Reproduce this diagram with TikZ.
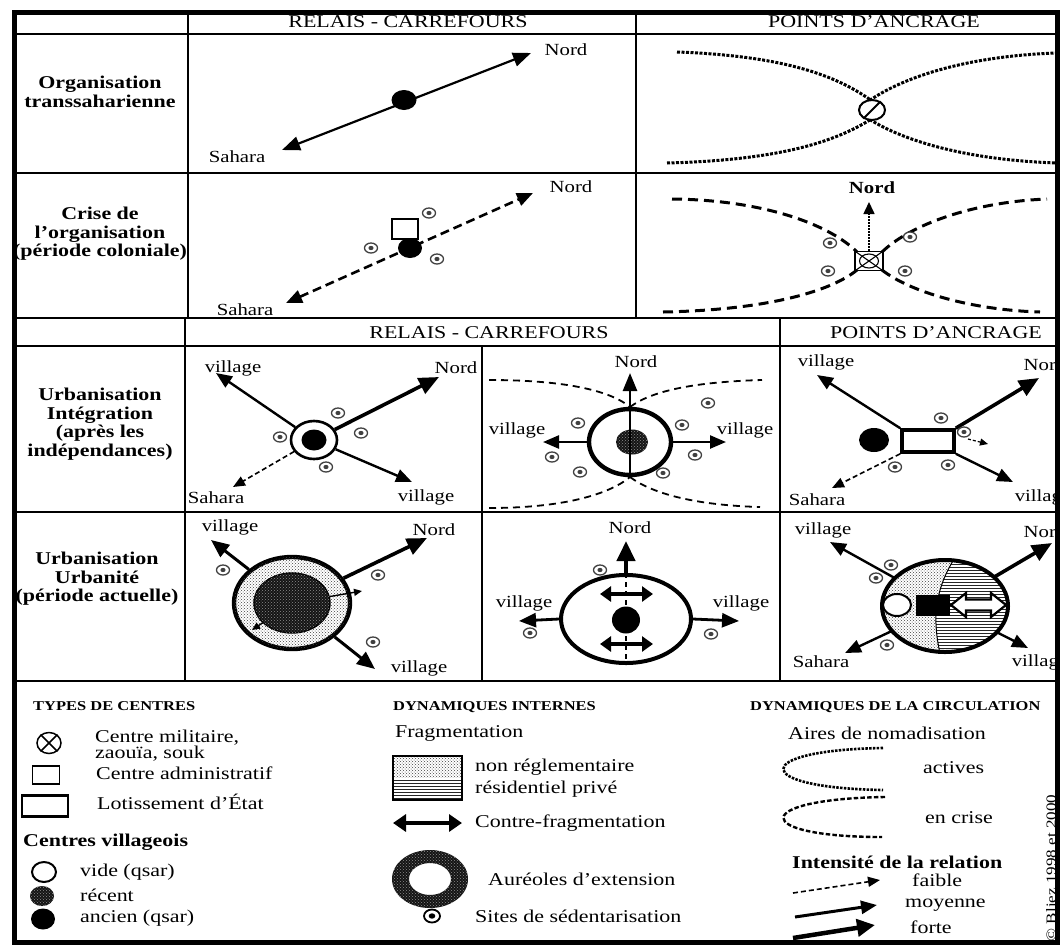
\documentclass[tikz,border=0pt]{standalone}
\usepackage{fontspec}
\setmainfont{Liberation Serif}[FakeStretch=1.22]
\usetikzlibrary{arrows.meta,shapes.geometric,patterns}

\begin{document}
\begin{tikzpicture}[x=1pt,y=-1pt,
  gridline/.style={line width=2.4pt},
  hdr/.style={font=\fontsize{18}{20}\selectfont, inner sep=0pt},
  rowlab/.style={font=\bfseries\fontsize{18}{18.5}\selectfont, align=center, inner sep=0pt},
  lab/.style={font=\fontsize{17}{19}\selectfont, inner sep=0pt},
  legtitle/.style={font=\bfseries\fontsize{13.5}{15}\selectfont, anchor=west, inner sep=0pt},
  legtxt/.style={font=\fontsize{18}{16}\selectfont, anchor=west, inner sep=0pt, align=left},
  legbold/.style={font=\bfseries\fontsize{18}{20}\selectfont, anchor=west, inner sep=0pt},
  weakarr/.style={line width=1.6pt, dash pattern=on 5pt off 3pt, -{Triangle[length=12pt,width=10pt]}},
  medarr/.style={line width=2.4pt, -{Triangle[length=16pt,width=13pt]}},
  strongarr/.style={line width=3.6pt, -{Triangle[length=20pt,width=17pt]}},
  dblarr/.style={line width=4pt, {Triangle[length=11pt,width=15pt]}-{Triangle[length=11pt,width=15pt]}},
  dotcurve/.style={line width=3pt, dash pattern=on 3pt off 1.5pt},
  dashcurve/.style={line width=3pt, dash pattern=on 10pt off 6pt},
  thindash/.style={line width=1.8pt, dash pattern=on 7pt off 5pt},
  blob/.style={ellipse, fill=black, inner sep=0pt},
  hollow/.style={ellipse, draw, fill=white, inner sep=0pt},
  recent/.style={fill=black!92, postaction={pattern=crosshatch dots, pattern color=black!45}},
  stipple/.style={fill=white, postaction={pattern=crosshatch dots, pattern color=black!75}},
  site/.pic={\draw[line width=1.3pt, black!75, fill=white] (0,0) ellipse (6.5 and 5);
             \fill[black!75] (0,0) ellipse (2.6 and 2.1);}
]
\useasboundingbox (0,0) rectangle (1060,946);
\fill[white] (0,0) rectangle (1060,946);

\begin{scope}
\clip (0,0) rectangle (1055,946);

% ---------- table rules ----------
\draw[gridline] (14,34) -- (1057,34);
\draw[gridline] (14,173) -- (1057,173);
\draw[gridline] (14,318) -- (1057,318);
\draw[gridline] (14,346) -- (1057,346);
\draw[gridline] (14,512) -- (1057,512);
\draw[gridline] (14,681) -- (1057,681);
\draw[gridline] (188,12) -- (188,318);
\draw[gridline] (636,12) -- (636,318);
\draw[gridline] (185,318) -- (185,681);
\draw[gridline] (482,346) -- (482,681);
\draw[gridline] (780,318) -- (780,681);

% ---------- headers ----------
\node[hdr] (h1a) at (408,22) {RELAIS - CARREFOURS};
\node[hdr] (h1b) at (874,22) {POINTS D'ANCRAGE};
\node[hdr] (h2a) at (489,333) {RELAIS - CARREFOURS};
\node[hdr] (h2b) at (936,333) {POINTS D'ANCRAGE};

% ---------- row labels ----------
\node[rowlab] (l1) at (100,92) {Organisation\\transsaharienne};
\node[rowlab] (l2) at (100,234) {Crise de\\l'organisation\\(période coloniale)};
\node[rowlab] (l3) at (100,424) {Urbanisation\\Intégration\\(après les\\indépendances)};
\node[rowlab] (l4) at (97,579) {Urbanisation\\Urbanité\\(période actuelle)};

% ---------- row 1, relais ----------
\node[lab] (r1nord) at (566,50) {Nord};
\node[lab] (r1sah) at (237,157) {Sahara};
\coordinate (r1n) at (531,53);
\coordinate (r1s) at (282,150);
\draw[line width=2.2pt, {Triangle[length=18pt,width=14pt]}-{Triangle[length=18pt,width=14pt]}] (r1s) -- (r1n);
\node[blob, minimum width=25pt, minimum height=20pt] (r1dot) at (404,100) {};

% ---------- row 1, ancrage ----------
\draw[dotcurve] (677,52) .. controls (790,56) and (842,78) .. (876,104);
\draw[dotcurve] (866,103) .. controls (900,78) and (965,56) .. (1057,53);
\draw[dotcurve] (667,163) .. controls (785,160) and (840,140) .. (876,116);
\draw[dotcurve] (866,117) .. controls (900,140) and (965,160) .. (1057,163);
\node[hollow, line width=2pt, minimum width=26pt, minimum height=20pt] (r1anc) at (872,110) {};
\draw[line width=1.8pt] (r1anc.225) -- (r1anc.45);

% ---------- row 2, relais ----------
\node[lab] (r2nord) at (571,187) {Nord};
\node[lab] (r2sah) at (245,310) {Sahara};
\coordinate (r2n) at (533,193);
\coordinate (r2s) at (286,303);
\draw[line width=2.6pt, dash pattern=on 9pt off 5pt, {Triangle[length=16pt,width=13pt]}-{Triangle[length=16pt,width=13pt]}] (r2s) -- (r2n);
\node[draw, fill=white, line width=2pt, minimum width=26pt, minimum height=20pt, inner sep=0] (r2adm) at (405,229) {};
\node[blob, minimum width=24pt, minimum height=20pt] (r2dot) at (410,248) {};
\pic at (429,213) {site};
\pic at (371,248) {site};
\pic at (437,259) {site};

% ---------- row 2, ancrage ----------
\draw[dashcurve] (672,199) .. controls (765,200) and (830,225) .. (857,252);
\draw[dashcurve] (882,252) .. controls (910,225) and (972,202) .. (1047,199);
\draw[dashcurve] (663,312) .. controls (765,310) and (830,292) .. (857,270);
\draw[dashcurve] (882,270) .. controls (910,292) and (972,310) .. (1040,312);
\node[draw, fill=white, line width=1.8pt, minimum width=28pt, minimum height=19pt, inner sep=0] (r2box) at (869,261) {};
\draw[line width=1.1pt] (r2box.north west) -- (r2box.south east) (r2box.north east) -- (r2box.south west);
\node[ellipse, draw, line width=1.1pt, minimum width=19pt, minimum height=14pt, inner sep=0] (r2boxc) at (r2box) {};
\node[lab, font=\bfseries\fontsize{17}{19}\selectfont] (r2anord) at (872,188) {Nord};
\coordinate (r2an) at (869,202);
\draw[line width=1.6pt, dash pattern=on 1.6pt off 1.4pt, -{Triangle[length=12pt,width=11pt]}] (r2box.north) -- (r2an);
\pic at (830,243) {site};
\pic at (910,237) {site};
\pic at (828,271) {site};
\pic at (905,271) {site};

% ---------- row 3, relais (1) ----------
\node[lab] (r3avl) at (233,368) {village};
\node[lab] (r3anord) at (456,368) {Nord};
\node[lab] (r3asah) at (216,498) {Sahara};
\node[lab] (r3avr) at (426,497) {village};
\node[hollow, line width=2.6pt, minimum width=46pt, minimum height=38pt] (r3aring) at (314,440) {};
\node[blob, minimum width=25pt, minimum height=21pt] (r3adot) at (314,440) {};
\coordinate (r3anw) at (216,373);
\coordinate (r3ane) at (439,377);
\coordinate (r3ase) at (412,482);
\coordinate (r3asw) at (233,487);
\draw[medarr] (r3aring) -- (r3anw);
\draw[strongarr] (r3aring) -- (r3ane);
\draw[medarr] (r3aring) -- (r3ase);
\draw[weakarr] (r3aring) -- (r3asw);
\pic at (338,413) {site};
\pic at (280,437) {site};
\pic at (361,433) {site};
\pic at (326,467) {site};

% ---------- row 3, relais (2) ----------
\node[lab] (r3bnord) at (636,362) {Nord};
\node[lab] (r3bvl) at (517,430) {village};
\node[lab] (r3bvr) at (745,430) {village};
\draw[thindash] (489,380) .. controls (570,380) and (612,392) .. (630,407);
\draw[thindash] (630,407) .. controls (650,392) and (690,382) .. (762,380);
\draw[thindash] (489,508) .. controls (570,508) and (612,492) .. (630,477);
\draw[thindash] (630,477) .. controls (650,492) and (690,505) .. (760,507);
\node[ellipse, draw, line width=4.4pt, fill=white, minimum width=82pt, minimum height=66pt, inner sep=0] (r3bring) at (630,442) {};
\node[ellipse, recent, minimum width=32pt, minimum height=25pt, inner sep=0] (r3bcore) at (632,442) {};
\coordinate (r3bn) at (630,373);
\coordinate (r3bw) at (543,442);
\coordinate (r3be) at (726,442);
\draw[line width=2.6pt, -{Triangle[length=18pt,width=14pt]}] (r3bring.south) -- (r3bn);
\draw[medarr] (r3bring.west) -- (r3bw);
\draw[medarr] (r3bring.east) -- (r3be);
\pic at (708,403) {site};
\pic at (578,423) {site};
\pic at (682,425) {site};
\pic at (552,457) {site};
\pic at (695,455) {site};
\pic at (580,472) {site};
\pic at (663,473) {site};

% ---------- row 3, ancrage ----------
\node[lab] (r3cvl) at (826,362) {village};
\node[lab] (r3cnord) at (1045,365) {Nord};
\node[lab] (r3csah) at (817,500) {Sahara};
\node[lab] (r3cvr) at (1043,497) {village};
\node[blob, minimum width=30pt, minimum height=24pt] (r3cdot) at (874,440) {};
\node[draw, line width=3.6pt, fill=white, minimum width=52pt, minimum height=22pt, inner sep=0] (r3clot) at (928,441) {};
\coordinate (r3cnw) at (817,375);
\coordinate (r3cne) at (1039,378);
\coordinate (r3cse) at (1013,482);
\coordinate (r3csw) at (832,488);
\coordinate (r3cs0) at (968,439);
\coordinate (r3cs1) at (988,444);
\draw[medarr] (r3clot.north west) -- (r3cnw);
\draw[strongarr] (r3clot.north east) -- (r3cne);
\draw[medarr] (r3clot.south east) -- (r3cse);
\draw[weakarr] (r3clot.south west) -- (r3csw);
\draw[line width=1.2pt, dash pattern=on 3pt off 2pt, -{Triangle[length=8pt,width=7pt]}] (r3cs0) -- (r3cs1);
\pic at (941,418) {site};
\pic at (964,432) {site};
\pic at (895,467) {site};
\pic at (948,465) {site};

% ---------- row 4, relais (1) ----------
\node[lab] (r4avl) at (230,527) {village};
\node[lab] (r4anord) at (434,530) {Nord};
\node[lab] (r4avr) at (419,668) {village};
\coordinate (r4anw) at (211,540);
\coordinate (r4ane) at (427,538);
\coordinate (r4ase) at (375,669);
\node[ellipse, draw, line width=4.4pt, stipple, minimum width=116pt, minimum height=92pt, inner sep=0] (r4aring) at (292,603) {};
\node[ellipse, draw, line width=1.4pt, recent, minimum width=76pt, minimum height=60pt, inner sep=0] (r4acore) at (292,603) {};
\draw[line width=3pt, -{Triangle[length=18pt,width=15pt]}] (r4aring) -- (r4anw);
\draw[strongarr] (r4aring) -- (r4ane);
\draw[line width=3pt, -{Triangle[length=18pt,width=15pt]}] (r4aring) -- (r4ase);
\coordinate (r4ae) at (362,591);
\coordinate (r4asw) at (252,630);
\draw[line width=1.4pt, -{Triangle[length=8pt,width=7pt]}] (r4acore) -- (r4ae);
\draw[line width=1.4pt, -{Triangle[length=8pt,width=7pt]}] (r4acore) -- (r4asw);
\pic at (223,570) {site};
\pic at (378,575) {site};
\pic at (373,642) {site};

% ---------- row 4, relais (2) ----------
\node[lab] (r4bnord) at (630,528) {Nord};
\node[lab] (r4bvl) at (524,603) {village};
\node[lab] (r4bvr) at (741,603) {village};
\node[ellipse, draw, line width=4pt, fill=white, minimum width=130pt, minimum height=88pt, inner sep=0] (r4boval) at (626,619) {};
\coordinate (r4bn) at (626,541);
\coordinate (r4bw) at (519,621);
\coordinate (r4be) at (739,621);
\draw[line width=4.5pt, -{Triangle[length=20pt,width=18pt]}] (r4boval.north) -- (r4bn);
\draw[line width=2pt, dash pattern=on 5pt off 4pt] (r4boval.north) -- (r4boval.south);
\node[blob, minimum width=28pt, minimum height=27pt] (r4bdot) at (626,620) {};
\coordinate (r4bu1) at (600,594);
\coordinate (r4bu2) at (653,594);
\coordinate (r4bd1) at (600,644);
\coordinate (r4bd2) at (653,644);
\draw[dblarr] (r4bu1) -- (r4bu2);
\draw[dblarr] (r4bd1) -- (r4bd2);
\draw[line width=2.8pt, -{Triangle[length=17pt,width=14pt]}] (r4boval.west) -- (r4bw);
\draw[line width=2.8pt, -{Triangle[length=17pt,width=14pt]}] (r4boval.east) -- (r4be);
\pic at (600,570) {site};
\pic at (530,633) {site};
\pic at (711,634) {site};

% ---------- row 4, ancrage ----------
\node[lab] (r4cvl) at (823,530) {village};
\node[lab] (r4cnord) at (1045,532) {Nord};
\node[lab] (r4csah) at (821,662) {Sahara};
\node[lab] (r4cvr) at (1040,662) {village};
\node[ellipse, minimum width=126pt, minimum height=92pt, inner sep=0] (r4csplit) at (945,606) {};
\begin{scope}
  \clip (945,606) ellipse (63 and 46);
  \path[stipple] (870,550) -- (960,550) .. controls (932,590) and (932,622) .. (942,662) -- (870,662) -- cycle;
  \path[fill=white, postaction={pattern=horizontal lines, pattern color=black!85}] (960,550) .. controls (932,590) and (932,622) .. (942,662) -- (1020,662) -- (1020,550) -- cycle;
  \draw[line width=1pt] (960,550) .. controls (932,590) and (932,622) .. (942,662);
\end{scope}
\node[fill=black, minimum width=34pt, minimum height=21pt, inner sep=0] (r4cblk) at (933,605) {};
\draw[line width=2.2pt, fill=white] (951,605) -- (966,593) -- (966,599.5) -- (991,599.5) -- (991,593) -- (1006,605) -- (991,617) -- (991,610.5) -- (966,610.5) -- (966,617) -- cycle;
\coordinate (r4cnw) at (830,542);
\coordinate (r4cne) at (1052,543);
\coordinate (r4csw) at (845,653);
\coordinate (r4cse) at (1028,648);
\draw[medarr] (r4csplit) -- (r4cnw);
\draw[strongarr] (r4csplit) -- (r4cne);
\draw[medarr] (r4csplit) -- (r4csw);
\draw[medarr] (r4csplit) -- (r4cse);
\draw[line width=4pt] (r4csplit.center) ellipse (63 and 46);
\node[hollow, line width=2pt, minimum width=28pt, minimum height=22pt] (r4cvide) at (897,605) {};
\pic at (891,565) {site};
\pic at (876,578) {site};
\pic at (887,645) {site};

% ---------- legend: types de centres ----------
\node[legtitle] (lgt1) at (33,706) {TYPES DE CENTRES};
\node[ellipse, draw, line width=1.5pt, minimum width=24pt, minimum height=21pt, inner sep=0] (lgmil) at (49,743) {};
\draw[line width=1.5pt] (lgmil.45) -- (lgmil.225) (lgmil.135) -- (lgmil.315);
\node[legtxt] (lgmilt) at (95,746) {Centre militaire,\\zaouïa, souk};
\node[draw, line width=1.8pt, minimum width=27pt, minimum height=18pt, inner sep=0] (lgadm) at (46,775) {};
\node[legtxt] (lgadmt) at (96,773) {Centre administratif};
\node[draw, line width=2.4pt, minimum width=46pt, minimum height=21pt, inner sep=0] (lglot) at (45,806) {};
\node[legtxt] (lglott) at (97,802) {Lotissement d'État};
\node[legbold] (lgvil) at (23,842) {Centres villageois};
\node[hollow, line width=2pt, minimum width=24pt, minimum height=20pt] (lgvide) at (44,872) {};
\node[legtxt] (lgvidet) at (80,872) {vide (qsar)};
\node[ellipse, recent, minimum width=24pt, minimum height=20pt, inner sep=0] (lgrec) at (42,896) {};
\node[legtxt] (lgrect) at (80,895) {récent};
\node[blob, minimum width=24pt, minimum height=21pt] (lganc) at (43,919) {};
\node[legtxt] (lganct) at (80,918) {ancien (qsar)};

% ---------- legend: dynamiques internes ----------
\node[legtitle] (lgt2) at (393,707) {DYNAMIQUES INTERNES};
\node[legtxt] (lgfrag) at (395,733) {Fragmentation};
\path[stipple] (393,756) rectangle (462,778);
\path[fill=white, postaction={pattern=horizontal lines, pattern color=black!85}] (393,778) rectangle (462,800);
\node[draw, line width=1.5pt, minimum width=69pt, minimum height=44pt, inner sep=0] (lgpat) at (427.5,778) {};
\node[legtxt] (lgnonr) at (475,767) {non réglementaire};
\node[legtxt] (lgres) at (475,789) {résidentiel privé};
\coordinate (lgcf1) at (393,823);
\coordinate (lgcf2) at (462,823);
\draw[line width=4.5pt, {Triangle[length=13pt,width=17pt]}-{Triangle[length=13pt,width=17pt]}] (lgcf1) -- (lgcf2);
\node[legtxt] (lgcft) at (475,823) {Contre-fragmentation};
\path[fill=black!92, even odd rule, postaction={even odd rule, pattern=crosshatch dots, pattern color=black!45}] (430,879) ellipse (38 and 29) (430,879) ellipse (21 and 16);
\node[legtxt] (lgaur) at (488,879) {Auréoles d'extension};
\draw[line width=1.8pt] (432,916) ellipse (8 and 6.5);
\fill (432,916) ellipse (3.3 and 2.7);
\node[legtxt] (lgsite) at (475,916) {Sites de sédentarisation};

% ---------- legend: dynamiques de la circulation ----------
\node[legtitle] (lgt3) at (750,707) {DYNAMIQUES DE LA CIRCULATION};
\node[legtxt] (lgaires) at (788,733) {Aires de nomadisation};
\draw[line width=2.6pt, dash pattern=on 2.5pt off 1.3pt] (883,748) .. controls (750,750) and (750,788) .. (883,790);
\node[legtxt] (lgact) at (923,768) {actives};
\draw[line width=2.4pt, dash pattern=on 4.5pt off 2.2pt] (885,797) .. controls (750,799) and (750,837) .. (882,837);
\node[legtxt] (lgcri) at (925,818) {en crise};
\node[legbold] (lgint) at (792,862) {Intensité de la relation};
\coordinate (lgf1) at (793,893);
\coordinate (lgf2) at (880,880);
\coordinate (lgm1) at (795,917);
\coordinate (lgm2) at (877,905);
\coordinate (lgs1) at (793,938);
\coordinate (lgs2) at (875,925);
\draw[weakarr] (lgf1) -- (lgf2);
\draw[line width=3pt, -{Triangle[length=16pt,width=13pt]}] (lgm1) -- (lgm2);
\draw[line width=4.5pt, -{Triangle[length=18pt,width=17pt]}] (lgs1) -- (lgs2);
\node[legtxt] (lgfai) at (912,880) {faible};
\node[legtxt] (lgmoy) at (905,905) {moyenne};
\node[legtxt] (lgfor) at (910,927) {forte};
\node[font=\fontsize{14}{16}\selectfont, rotate=90, inner sep=0] (copy) at (1051,868) {© Bliez 1998 et 2000};
\end{scope}

% ---------- outer frame ----------
\draw[line width=5pt] (14,12) rectangle (1057,942);
\end{tikzpicture}
\end{document}
